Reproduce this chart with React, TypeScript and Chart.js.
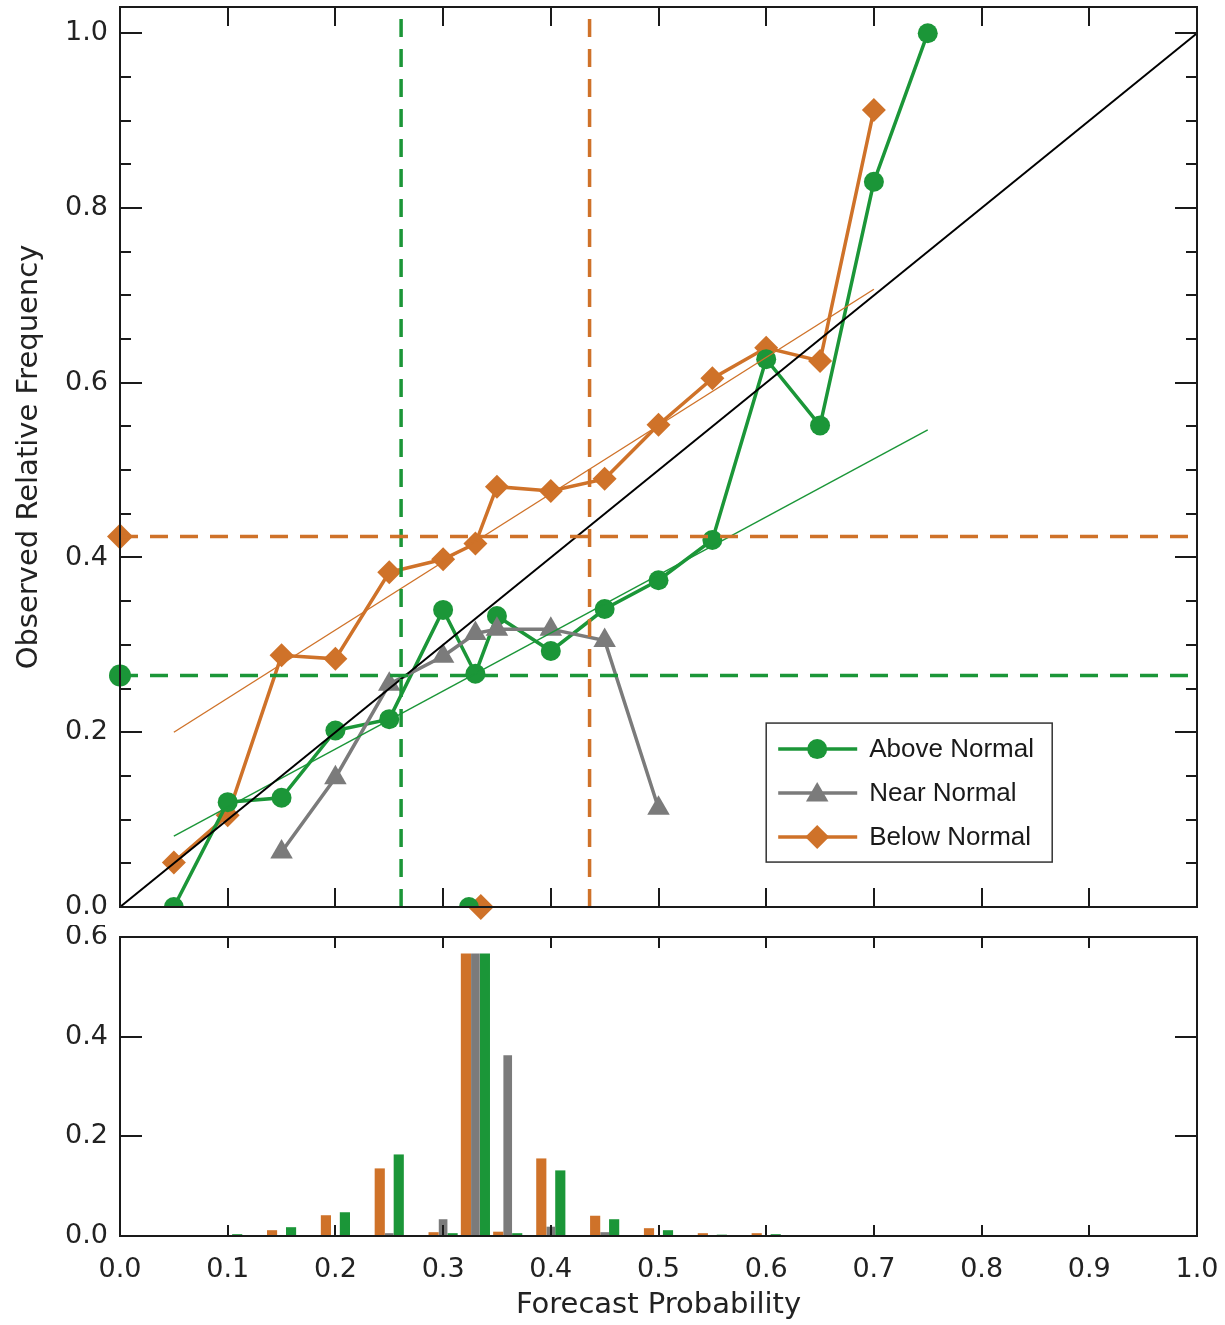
import React, { useEffect, useRef } from 'react';
import { Chart, registerables } from 'chart.js';

Chart.register(...registerables);

// ---------- data ----------
const aboveX = [0.05, 0.1, 0.15, 0.2, 0.25, 0.3, 0.33, 0.35, 0.4, 0.45, 0.5, 0.55, 0.6, 0.65, 0.7, 0.75];
const aboveY = [0.0, 0.12, 0.125, 0.202, 0.215, 0.34, 0.267, 0.333, 0.293, 0.341, 0.374, 0.42, 0.627, 0.551, 0.83, 1.0];
const nearX = [0.15, 0.2, 0.25, 0.3, 0.33, 0.35, 0.4, 0.45, 0.5];
const nearY = [0.063, 0.148, 0.255, 0.287, 0.313, 0.318, 0.318, 0.305, 0.113];
const belowX = [0.05, 0.1, 0.15, 0.2, 0.25, 0.3, 0.33, 0.35, 0.4, 0.45, 0.5, 0.55, 0.6, 0.65, 0.7];
const belowY = [0.051, 0.105, 0.288, 0.284, 0.383, 0.398, 0.416, 0.481, 0.476, 0.49, 0.552, 0.605, 0.64, 0.625, 0.912];

const aboveClim = 0.265;
const belowClim = 0.424;
const aboveMeanFcst = 0.261;
const belowMeanFcst = 0.436;
const aboveBaseMarkX = 0.324;
const belowBaseMarkX = 0.335;

const aboveFitX = [0.05, 0.75];
const aboveFitY = [0.081, 0.546];
const belowFitX = [0.05, 0.7];
const belowFitY = [0.2, 0.707];

const histBins = [0.05, 0.1, 0.15, 0.2, 0.25, 0.3, 0.33, 0.36, 0.4, 0.45, 0.5, 0.55, 0.6, 0.65, 0.7];
const histBelow = [0.001, 0.001, 0.011, 0.041, 0.135, 0.007, 0.566, 0.008, 0.155, 0.04, 0.015, 0.005, 0.005, 0.001, 0.001];
const histNear = [0, 0, 0, 0, 0.005, 0.033, 0.566, 0.362, 0.018, 0.007, 0, 0, 0, 0, 0];
const histAbove = [0.001, 0.003, 0.017, 0.047, 0.163, 0.005, 0.566, 0.005, 0.131, 0.033, 0.011, 0.002, 0.003, 0.001, 0.001];

const xTicks = [0, 0.1, 0.2, 0.3, 0.4, 0.5, 0.6, 0.7, 0.8, 0.9, 1.0];
const relTicks = [0, 0.2, 0.4, 0.6, 0.8, 1.0];
const relMinorTicks = [0.05, 0.1, 0.15, 0.25, 0.3, 0.35, 0.45, 0.5, 0.55, 0.65, 0.7, 0.75, 0.85, 0.9, 0.95, 1.0];
const histTicks = [0, 0.2, 0.4, 0.6];
const seriesNames = ['Above Normal', 'Near Normal', 'Below Normal'];

// ---------- styles ----------
const GREEN = '#1b9638';
const ORANGE = '#cf7229';
const GRAY = '#7b7b7b';
const INK = '#222222';
const AXIS_FONT = "'DejaVu Sans', sans-serif";
const LEGEND_FONT = "'Liberation Sans', Arial, sans-serif";

const zip = (xs: number[], ys: number[]) => xs.map((x, i) => ({ x, y: ys[i] }));

function drawMarker(ctx: CanvasRenderingContext2D, style: string, x: number, y: number, r: number, color: string) {
  ctx.fillStyle = color;
  ctx.beginPath();
  if (style === 'circle') {
    ctx.arc(x, y, r, 0, Math.PI * 2);
  } else if (style === 'triangle') {
    ctx.moveTo(x, y - r);
    ctx.lineTo(x + r * Math.sin((2 * Math.PI) / 3), y + r / 2);
    ctx.lineTo(x - r * Math.sin((2 * Math.PI) / 3), y + r / 2);
    ctx.closePath();
  } else {
    ctx.moveTo(x, y - r);
    ctx.lineTo(x + r, y);
    ctx.lineTo(x, y + r);
    ctx.lineTo(x - r, y);
    ctx.closePath();
  }
  ctx.fill();
}

const frameTicks = {
  id: 'frameTicks',
  afterDatasetsDraw(chart: any, _args: any, o: any) {
    const { ctx, chartArea: ca } = chart;
    const xs = chart.scales.x;
    const ys = chart.scales.y;
    ctx.save();
    ctx.strokeStyle = '#1a1a1a';
    ctx.lineWidth = 2;
    ctx.beginPath();
    for (const v of o.xMajor) {
      const p = Math.round(xs.getPixelForValue(v));
      if (p <= ca.left + 2 || p >= ca.right - 2) continue;
      ctx.moveTo(p, ca.bottom);
      ctx.lineTo(p, ca.bottom - o.xLen);
      ctx.moveTo(p, ca.top);
      ctx.lineTo(p, ca.top + o.xLen);
    }
    const yTick = (v: number, len: number) => {
      const p = Math.round(ys.getPixelForValue(v));
      if (p <= ca.top + 2 || p >= ca.bottom - 2) return;
      ctx.moveTo(ca.left, p);
      ctx.lineTo(ca.left + len, p);
      ctx.moveTo(ca.right, p);
      ctx.lineTo(ca.right - len, p);
    };
    for (const v of o.yMajor) yTick(v, o.yLen);
    for (const v of o.yMinor || []) yTick(v, o.yMinorLen);
    ctx.stroke();
    ctx.strokeRect(ca.left, ca.top, ca.right - ca.left, ca.bottom - ca.top);
    ctx.restore();
  },
};

const boxLegend = {
  id: 'boxLegend',
  afterDatasetsDraw(chart: any, _args: any, o: any) {
    if (!o || !o.items) return;
    const { ctx } = chart;
    const left = chart.scales.x.getPixelForValue(o.anchorX);
    const top = chart.scales.y.getPixelForValue(o.anchorY);
    ctx.save();
    ctx.fillStyle = '#ffffff';
    ctx.fillRect(left, top, o.width, o.height);
    ctx.strokeStyle = '#333';
    ctx.lineWidth = 1.5;
    ctx.strokeRect(left, top, o.width, o.height);
    o.items.forEach((it: any, i: number) => {
      const cy = top + o.firstRow + i * o.rowGap;
      ctx.strokeStyle = it.color;
      ctx.lineWidth = 3.5;
      ctx.beginPath();
      ctx.moveTo(left + 12, cy);
      ctx.lineTo(left + 91, cy);
      ctx.stroke();
      drawMarker(ctx, it.style, left + 51, cy + (it.style === 'triangle' ? 2 : 0), it.r, it.color);
      ctx.fillStyle = '#1a1a1a';
      ctx.font = `26px ${LEGEND_FONT}`;
      ctx.textBaseline = 'middle';
      ctx.textAlign = 'left';
      ctx.fillText(it.label, left + 103, cy + 1);
    });
    ctx.restore();
  },
};

const fmt = (v: any) => Number(v).toFixed(1);

export default function App() {
  const topRef = useRef<HTMLCanvasElement>(null);
  const botRef = useRef<HTMLCanvasElement>(null);

  useEffect(() => {
    const dashed = (pts: any[], color: string) => ({
      data: pts,
      borderColor: color,
      borderWidth: 3.5,
      borderDash: [18, 12],
      pointRadius: 0,
      tension: 0,
    });
    const thin = (pts: any[], color: string) => ({
      data: pts,
      borderColor: color,
      borderWidth: 1.4,
      pointRadius: 0,
      tension: 0,
    });
    const series = (pts: any[], color: string, style: string, r: number) => ({
      data: pts,
      borderColor: color,
      backgroundColor: color,
      borderWidth: 3.5,
      pointStyle: style,
      pointRadius: r,
      pointBorderWidth: 0,
      pointBackgroundColor: color,
      tension: 0,
    });
    const marker = (pts: any[], color: string, style: string, r: number, clip: any) => ({
      data: pts,
      showLine: false,
      pointStyle: style,
      pointRadius: r,
      pointBorderWidth: 0,
      pointBackgroundColor: color,
      borderColor: color,
      clip,
    });

    const top = new Chart(topRef.current as HTMLCanvasElement, {
      type: 'line',
      data: {
        datasets: [
          dashed([{ x: 0, y: aboveClim }, { x: 1, y: aboveClim }], GREEN),
          dashed([{ x: 0, y: belowClim }, { x: 1, y: belowClim }], ORANGE),
          dashed([{ x: aboveMeanFcst, y: 0 }, { x: aboveMeanFcst, y: 1.03 }], GREEN),
          dashed([{ x: belowMeanFcst, y: 0 }, { x: belowMeanFcst, y: 1.03 }], ORANGE),
          { data: [{ x: 0, y: 0 }, { x: 1, y: 1 }], borderColor: '#000', borderWidth: 2, pointRadius: 0 },
          thin(zip(aboveFitX, aboveFitY), GREEN),
          thin(zip(belowFitX, belowFitY), ORANGE),
          series(zip(nearX, nearY), GRAY, 'triangle', 13),
          series(zip(aboveX, aboveY), GREEN, 'circle', 10),
          series(zip(belowX, belowY), ORANGE, 'rectRot', 12),
          marker([{ x: 0, y: aboveClim }], GREEN, 'circle', 11, false),
          marker([{ x: 0, y: belowClim }], ORANGE, 'rectRot', 13, false),
          marker([{ x: aboveBaseMarkX, y: 0 }], GREEN, 'circle', 10, undefined),
          marker([{ x: belowBaseMarkX, y: 0 }], ORANGE, 'rectRot', 13, false),
        ] as any,
      },
      options: {
        responsive: false,
        animation: false,
        devicePixelRatio: 1,
        layout: { autoPadding: false, padding: { left: 0, right: 28, top: 7, bottom: 18 } },
        plugins: {
          legend: { display: false },
          tooltip: { enabled: false },
          frameTicks: { xMajor: xTicks, yMajor: relTicks, yMinor: relMinorTicks, xLen: 19, yLen: 22, yMinorLen: 11 },
          boxLegend: {
            anchorX: 0.6,
            anchorY: 0.2105,
            width: 286,
            height: 139,
            firstRow: 26,
            rowGap: 44,
            items: [
              { label: seriesNames[0], color: GREEN, style: 'circle', r: 10 },
              { label: seriesNames[1], color: GRAY, style: 'triangle', r: 13 },
              { label: seriesNames[2], color: ORANGE, style: 'diamond', r: 12 },
            ],
          },
        } as any,
        scales: {
          x: { type: 'linear', min: 0, max: 1, display: false },
          y: {
            type: 'linear',
            min: 0,
            max: 1.03,
            grid: { display: false, drawTicks: false },
            border: { display: false },
            ticks: {
              stepSize: 0.2,
              includeBounds: false,
              padding: 12,
              color: INK,
              font: { family: AXIS_FONT, size: 27 },
              callback: fmt,
            },
            title: {
              display: true,
              text: 'Observed Relative Frequency',
              color: INK,
              font: { family: AXIS_FONT, size: 29 },
              padding: { top: 12, bottom: 0 },
            },
            afterFit: (s: any) => {
              s.width = 120;
              s.paddingTop = 0;
              s.paddingBottom = 0;
            },
          } as any,
        },
      },
      plugins: [frameTicks, boxLegend],
    });

    const bot = new Chart(botRef.current as HTMLCanvasElement, {
      type: 'bar',
      data: {
        datasets: [
          { label: seriesNames[2], data: zip(histBins, histBelow), backgroundColor: ORANGE, barThickness: 9.5 },
          { label: seriesNames[1], data: zip(histBins, histNear), backgroundColor: GRAY, barThickness: 8 },
          { label: seriesNames[0], data: zip(histBins, histAbove), backgroundColor: GREEN, barThickness: 9.5 },
        ] as any,
      },
      options: {
        responsive: false,
        animation: false,
        devicePixelRatio: 1,
        layout: { autoPadding: false, padding: { left: 0, right: 28, top: 12, bottom: 0 } },
        plugins: {
          legend: { display: false },
          tooltip: { enabled: false },
          frameTicks: { xMajor: xTicks, yMajor: histTicks, yMinor: [], xLen: 11, yLen: 22, yMinorLen: 0 },
        } as any,
        scales: {
          x: {
            type: 'linear',
            min: 0,
            max: 1,
            offset: false,
            grid: { display: false, drawTicks: false },
            border: { display: false },
            ticks: {
              stepSize: 0.1,
              padding: 18,
              autoSkip: false,
              maxRotation: 0,
              color: INK,
              font: { family: AXIS_FONT, size: 27 },
              callback: fmt,
            },
            title: {
              display: true,
              text: 'Forecast Probability',
              color: INK,
              font: { family: AXIS_FONT, size: 29 },
              padding: { top: 0, bottom: 2 },
            },
            afterFit: (s: any) => {
              s.height = 89;
              s.paddingLeft = 0;
              s.paddingRight = 0;
            },
          } as any,
          y: {
            type: 'linear',
            min: 0,
            max: 0.6,
            grid: { display: false, drawTicks: false },
            border: { display: false },
            ticks: {
              stepSize: 0.2,
              padding: 12,
              color: INK,
              font: { family: AXIS_FONT, size: 27 },
              callback: fmt,
            },
            afterFit: (s: any) => {
              s.width = 120;
              s.paddingTop = 0;
              s.paddingBottom = 0;
            },
          } as any,
        },
      },
      plugins: [frameTicks],
    });

    return () => {
      top.destroy();
      bot.destroy();
    };
  }, []);

  return (
    <div style={{ position: 'absolute', left: 0, top: 0, width: 1225, height: 1325, background: '#fff' }}>
      <canvas ref={topRef} width={1225} height={925} style={{ position: 'absolute', left: 0, top: 0, width: 1225, height: 925 }} />
      <canvas ref={botRef} width={1225} height={400} style={{ position: 'absolute', left: 0, top: 925, width: 1225, height: 400 }} />
    </div>
  );
}
